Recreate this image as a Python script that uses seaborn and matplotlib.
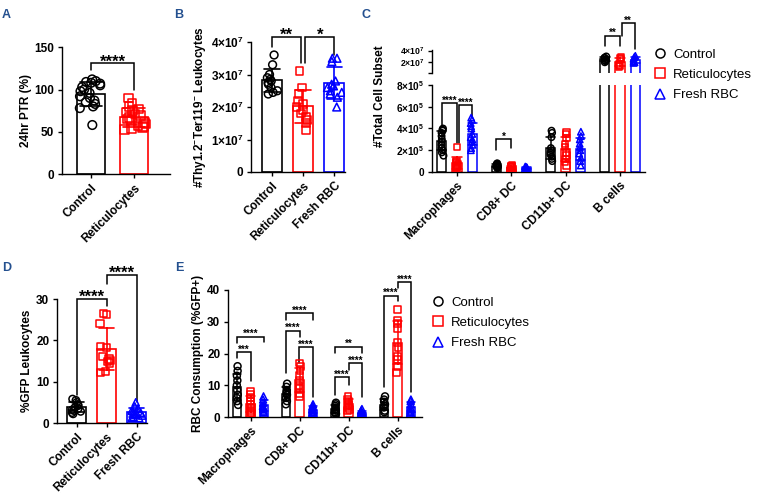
import numpy as np
import pandas as pd
import matplotlib
matplotlib.use('Agg')
import matplotlib.pyplot as plt
from matplotlib.lines import Line2D
import seaborn as sns

sns.set_theme(style='ticks')
plt.rcParams['font.family'] = ['Liberation Sans', 'DejaVu Sans']
plt.rcParams['font.weight'] = 'bold'
plt.rcParams['axes.labelweight'] = 'bold'
plt.rcParams['mathtext.fontset'] = 'custom'
plt.rcParams['mathtext.rm'] = 'Liberation Sans:bold'
plt.rcParams['mathtext.it'] = 'Liberation Sans:bold'
plt.rcParams['mathtext.bf'] = 'Liberation Sans:bold'
plt.rcParams['mathtext.default'] = 'rm'
for k in ['axes.edgecolor', 'xtick.color', 'ytick.color', 'text.color', 'axes.labelcolor']:
    plt.rcParams[k] = 'black'
plt.rcParams['axes.linewidth'] = 1.0

# ---------------- data ----------------
conds = ['Control', 'Reticulocytes', 'Fresh RBC']
cells = ['Macrophages', 'CD8+ DC', 'CD11b+ DC', 'B cells']

# A: 24hr PTR (%)
a_control = [112, 110, 109, 108, 107, 105, 103, 100, 98, 96, 92, 90, 87, 85, 83, 80, 78, 58]
a_retic = [90, 84, 80, 77, 75, 73, 71, 69, 67, 65, 63, 61, 59, 57, 56, 55, 54, 53]
a_yticks = [0, 50, 100, 150]

# B: #Thy1.2-Ter119- leukocytes
b_control = [3.6e7, 3.3e7, 3.0e7, 2.9e7, 2.85e7, 2.8e7, 2.75e7, 2.7e7, 2.6e7, 2.5e7, 2.45e7, 2.4e7]
b_retic = [3.1e7, 2.6e7, 2.4e7, 2.2e7, 2.1e7, 2.0e7, 1.9e7, 1.8e7, 1.7e7, 1.6e7, 1.5e7, 1.3e7]
b_fresh = [3.5e7, 3.5e7, 3.4e7, 2.8e7, 2.7e7, 2.65e7, 2.6e7, 2.5e7, 2.45e7, 2.4e7, 2.3e7, 2.0e7]
b_yticks = [0, 1e7, 2e7, 3e7, 4e7]
b_yticklabels = ['0', '1×10$^{7}$', '2×10$^{7}$', '3×10$^{7}$', '4×10$^{7}$']

# C: #Total cell subset (one list per cell type)
c_control = [
    [4.0e5, 3.9e5, 3.8e5, 3.6e5, 3.3e5, 3.0e5, 2.8e5, 2.5e5, 2.2e5, 2.0e5, 1.8e5, 1.5e5],
    [0.8e5, 0.75e5, 0.7e5, 0.65e5, 0.6e5, 0.55e5, 0.5e5, 0.45e5, 0.4e5, 0.35e5],
    [3.8e5, 3.6e5, 3.2e5, 2.2e5, 2.0e5, 1.8e5, 1.6e5, 1.4e5, 1.2e5, 1.0e5],
    [3.0e7, 2.8e7, 2.7e7, 2.5e7, 2.3e7, 2.2e7, 2.0e7],
]
c_retic = [
    [2.3e5, 1.0e5, 0.9e5, 0.8e5, 0.7e5, 0.6e5, 0.5e5, 0.5e5, 0.4e5, 0.4e5],
    [0.6e5, 0.55e5, 0.5e5, 0.45e5, 0.4e5, 0.3e5, 0.2e5, 0.15e5, 0.1e5, 0.1e5],
    [3.7e5, 3.5e5, 3.1e5, 2.6e5, 2.3e5, 1.8e5, 1.5e5, 1.2e5, 0.9e5, 0.6e5],
    [2.8e7, 2.7e7, 2.6e7, 1.6e7, 1.4e7, 1.3e7],
]
c_fresh = [
    [5.0e5, 4.8e5, 4.5e5, 4.2e5, 4.0e5, 3.5e5, 3.2e5, 3.0e5, 2.8e5, 2.5e5, 2.2e5, 2.0e5],
    [0.5e5, 0.45e5, 0.4e5, 0.4e5, 0.35e5, 0.3e5, 0.3e5, 0.25e5, 0.2e5, 0.2e5],
    [3.7e5, 3.3e5, 3.0e5, 2.6e5, 2.3e5, 2.0e5, 1.7e5, 1.3e5, 1.0e5, 0.6e5],
    [3.1e7, 2.9e7, 2.6e7, 2.2e7, 2.0e7, 1.9e7],
]
c_yticks_low = [0, 2e5, 4e5, 6e5, 8e5]
c_yticklabels_low = ['0', '2×10$^{5}$', '4×10$^{5}$', '6×10$^{5}$', '8×10$^{5}$']
c_yticks_high = [0.12e7, 2e7, 4e7]
c_yticklabels_high = ['', '2×10$^{7}$', '4×10$^{7}$']

# D: %GFP leukocytes
d_control = [5.8, 5.5, 5.0, 4.5, 4.2, 3.8, 3.5, 3.2, 3.0, 2.8, 2.5, 2.2]
d_retic = [26.5, 26.3, 24.0, 18.5, 18.2, 16.0, 15.5, 15.2, 14.8, 14.5, 12.5, 12.2]
d_fresh = [5.0, 4.0, 3.5, 3.0, 2.8, 2.5, 2.2, 2.0, 1.8, 1.5, 1.3, 1.2]
d_yticks = [0, 10, 20, 30]

# E: RBC consumption (%GFP+)
e_control = [
    [16, 14.5, 13, 11.5, 10, 8.5, 7, 6, 5, 3.8],
    [10.5, 9.5, 8.5, 8, 7.5, 7, 6, 5, 4],
    [4.5, 4, 3.5, 3, 2.5, 2, 1.5, 1.2, 1],
    [6.5, 5.5, 4.8, 4, 3.5, 3, 2, 1.5],
]
e_retic = [
    [8, 7, 6, 5, 4, 3, 2, 1.5, 1],
    [17, 16, 14.5, 13, 11.5, 10, 9, 7.5, 6.5],
    [6.5, 5.5, 5, 4, 3.5, 3, 2.5, 2],
    [34, 30.5, 29.5, 28, 23.5, 22, 19, 18, 16, 14],
]
e_fresh = [
    [6.5, 5.5, 4.5, 3.5, 3, 2.5, 2, 1.5],
    [4, 3.5, 3, 2.5, 2, 1.5, 1.5, 1, 1],
    [2.5, 2, 1.5, 1.2, 1, 0.8, 0.6, 0.5],
    [5.5, 5, 4, 3, 2.5, 2, 1.5, 1],
]
e_yticks = [0, 10, 20, 30, 40]

# significance brackets: (x1, x2, top, left leg end, right leg end, text)
a_sig = [(0, 1, 131, 123, 99.5, '****')]
b_sig = [(0, 0.93, 4.16e7, 3.86e7, 3.35e7, '**'), (1.07, 2, 4.16e7, 3.35e7, 3.6e7, '*')]
d_sig = [(0, 1, 30, 6.8, 28.4, '****'), (1, 2, 35.8, 33.6, 5.2, '****')]
# grouped: (cell index, hue1, hue2, top, left leg, right leg, text)
c_sig_low = [(0, 0, 1, 6.3e5, 4.2e5, 2.7e5, '****'), (0, 1.15, 2, 6.15e5, 2.7e5, 5.1e5, '****'),
             (1, 0, 1, 3.0e5, 2.0e5, 2.2e5, '*')]
c_sig_high = [(3, 0, 1, 6.5e7, 4.7e7, 4.7e7, '**'), (3, 1.1, 2, 8.7e7, 6.5e7, 4.35e7, '**')]
e_sig = [(0, 0, 2, 25.3, 23.4, 23.7, '****'), (0, 0, 1, 20.4, 18.5, 11.4, '***'),
         (1, 0, 2, 32.7, 30.6, 30.6, '****'), (1, 0, 1.05, 27.1, 14, 25.3, '****'),
         (1, 0.95, 2, 22, 16.9, 6.4, '****'),
         (2, 0, 2, 22.2, 20.3, 20.3, '**'), (2, 1, 2, 16.9, 14.8, 6.4, '****'),
         (2, 0, 1, 12.5, 6.9, 10.1, '****'),
         (3, 0, 1, 38.2, 9.6, 36.4, '****'), (3, 1.05, 2, 42.4, 40.6, 8, '****')]

pal = {'Control': '#000000', 'Reticulocytes': '#ff0000', 'Fresh RBC': '#0000ff'}
marks = {'Control': 'o', 'Reticulocytes': 's', 'Fresh RBC': '^'}
label_color = '#24508f'

W, H = 758, 501
GROUP_W = 0.83


def long_simple(names, groups):
    rows = [(n, v) for n, vals in zip(names, groups) for v in vals]
    return pd.DataFrame(rows, columns=['cond', 'val'])


def long_grouped(per_cond):
    rows = []
    for cond, lists in zip(conds, per_cond):
        for cell, vals in zip(cells, lists):
            rows += [(cell, cond, v) for v in vals]
    return pd.DataFrame(rows, columns=['cell', 'cond', 'val'])


def px_axes(fig, left, top, right, bottom):
    return fig.add_axes([left / W, 1 - bottom / H, (right - left) / W, (bottom - top) / H])


def hollow(ax):
    for coll in ax.collections:
        fc = coll.get_facecolor()
        coll.set_edgecolor(fc)
        coll.set_facecolor('none')
        coll.set_linewidth(1.1)


def style(ax, yfs=8.5):
    sns.despine(ax=ax)
    ax.tick_params(axis='both', length=3, width=1, pad=2.5, labelsize=8.5)
    ax.tick_params(axis='y', labelsize=yfs)
    ax.set_xlabel('')
    for lab in ax.get_xticklabels():
        lab.set_rotation(45)
        lab.set_ha('right')
        lab.set_rotation_mode('anchor')


def simple_panel(ax, df, order, msize, jitter):
    sns.barplot(data=df, x='cond', y='val', hue='cond', order=order, hue_order=order,
                palette=pal, fill=False, errorbar='sd', capsize=0.5, width=0.64,
                linewidth=1.2, saturation=1, legend=False, err_kws={'linewidth': 1.2}, ax=ax)
    for c in order:
        sns.stripplot(data=df[df['cond'] == c], x='cond', y='val', order=order,
                      color=pal[c], marker=marks[c], size=msize, jitter=jitter, ax=ax)
    hollow(ax)
    style(ax)


def grouped_panel(ax, df, msize, jitter, yfs=8.5):
    sns.barplot(data=df, x='cell', y='val', hue='cond', order=cells, hue_order=conds,
                palette=pal, fill=False, errorbar='sd', capsize=0.5, width=GROUP_W, gap=0.4,
                linewidth=1.1, saturation=1, legend=False, err_kws={'linewidth': 1.1}, ax=ax)
    for c in conds:
        sns.stripplot(data=df[df['cond'] == c], x='cell', y='val', hue='cond', order=cells,
                      hue_order=conds, palette=pal, dodge=True, marker=marks[c], size=msize,
                      jitter=jitter, legend=False, ax=ax)
    hollow(ax)
    style(ax, yfs)


def bracket(ax, x1, x2, y, yl, yr, text, fs):
    ax.plot([x1, x1, x2, x2], [yl, y, y, yr], color='black', lw=1.1, clip_on=False,
            solid_joinstyle='miter')
    ax.annotate(text, xy=((x1 + x2) / 2, y), xytext=(0, 2.6 - 0.4 * fs),
                textcoords='offset points', ha='center', va='baseline',
                fontsize=fs, fontweight='bold', annotation_clip=False)


def hue_x(cell_i, hue_i):
    return cell_i + (hue_i - 1) * GROUP_W / 3


np.random.seed(3)
fig = plt.figure(figsize=(W / 100, H / 100), dpi=100)

# ---- A ----
ax_a = px_axes(fig, 62, 47.3, 170, 174)
simple_panel(ax_a, long_simple(conds[:2], [a_control, a_retic]), conds[:2], 6.2, 0.27)
ax_a.set_ylim(0, 150)
ax_a.set_yticks(a_yticks)
ax_a.set_xlim(-0.67, 1.83)
ax_a.set_ylabel('24hr PTR (%)', fontsize=8.5, labelpad=2)
for s in a_sig:
    bracket(ax_a, *s, fs=12)

# ---- B ----
ax_b = px_axes(fig, 251, 42, 345, 172)
simple_panel(ax_b, long_simple(conds, [b_control, b_retic, b_fresh]), conds, 5.6, 0.25)
ax_b.set_ylim(0, 4e7)
ax_b.set_yticks(b_yticks)
ax_b.set_yticklabels(b_yticklabels)
ax_b.set_xlim(-0.66, 2.34)
ax_b.set_ylabel('#Thy1.2$^{-}$Ter119$^{-}$ Leukocytes', fontsize=8.5, labelpad=2)
for s in b_sig:
    bracket(ax_b, *s, fs=12)

# ---- C (broken axis) ----
df_c = long_grouped([c_control, c_retic, c_fresh])
ax_c = px_axes(fig, 432, 85, 645, 172)
grouped_panel(ax_c, df_c, 4.6, 0.06, yfs=7.2)
ax_c.set_ylim(0, 8e5)
ax_c.set_yticks(c_yticks_low)
ax_c.set_yticklabels(c_yticklabels_low)
ax_c.set_xlim(-0.46, 3.46)
ax_c.set_ylabel('')
for ci, h1, h2, y, yl, yr, t in c_sig_low:
    bracket(ax_c, hue_x(ci, h1), hue_x(ci, h2), y, yl, yr, t, fs=7)

# upper segment only carries the B cell counts
ax_c2 = px_axes(fig, 432, 50, 645, 73.3)
grouped_panel(ax_c2, df_c[df_c['cell'] == 'B cells'], 4.6, 0.06, yfs=6.2)
ax_c2.set_ylim(0.12e7, 4.1e7)
ax_c2.set_yticks(c_yticks_high)
ax_c2.set_yticklabels(c_yticklabels_high)
ax_c2.set_xlim(-0.46, 3.46)
ax_c2.set_ylabel('')
ax_c2.spines['bottom'].set_visible(False)
ax_c2.set_xticks([])
for ci, h1, h2, y, yl, yr, t in c_sig_high:
    bracket(ax_c2, hue_x(ci, h1), hue_x(ci, h2), y, yl, yr, t, fs=7)
fig.text(380 / W, 1 - 96 / H, '#Total Cell Subset', rotation=90, ha='center', va='center',
         fontsize=8.5, fontweight='bold')

handles = [Line2D([], [], ls='none', marker=marks[c], markersize=6.5, markerfacecolor='none',
                  markeredgecolor=pal[c], markeredgewidth=1.1) for c in conds]
fig.legend(handles, conds, loc='upper left', bbox_to_anchor=(648 / W, 1 - 43 / H),
           frameon=False, prop={'weight': 'normal', 'size': 9.5}, handlelength=1.0,
           handletextpad=0.5, labelspacing=0.62, borderaxespad=0)

# ---- D ----
ax_d = px_axes(fig, 57, 299, 147, 423)
simple_panel(ax_d, long_simple(conds, [d_control, d_retic, d_fresh]), conds, 5.2, 0.22)
ax_d.set_ylim(0, 30)
ax_d.set_yticks(d_yticks)
ax_d.set_xlim(-0.66, 2.35)
ax_d.set_ylabel('%GFP Leukocytes', fontsize=8.5, labelpad=2)
for s in d_sig:
    bracket(ax_d, *s, fs=12)

# ---- E ----
ax_e = px_axes(fig, 228, 290, 422, 417)
grouped_panel(ax_e, long_grouped([e_control, e_retic, e_fresh]), 5.0, 0.04)
ax_e.set_ylim(0, 40)
ax_e.set_yticks(e_yticks)
ax_e.set_xlim(-0.46, 3.5)
ax_e.set_ylabel('RBC Consumption (%GFP+)', fontsize=8.5, labelpad=2)
for ci, h1, h2, y, yl, yr, t in e_sig:
    bracket(ax_e, hue_x(ci, h1), hue_x(ci, h2), y, yl, yr, t, fs=7)
fig.legend(handles, conds, loc='upper left', bbox_to_anchor=(426 / W, 1 - 291 / H),
           frameon=False, prop={'weight': 'normal', 'size': 9.5}, handlelength=1.0,
           handletextpad=0.5, labelspacing=0.62, borderaxespad=0)

# panel letters
for letter, x, y in [('A', 6, 15), ('B', 179, 15), ('C', 366, 15), ('D', 7, 268), ('E', 179, 268)]:
    fig.text(x / W, 1 - y / H, letter, ha='center', va='center', fontsize=9,
             fontweight='bold', color=label_color)

fig.savefig('out.png', dpi=100, facecolor='white')
